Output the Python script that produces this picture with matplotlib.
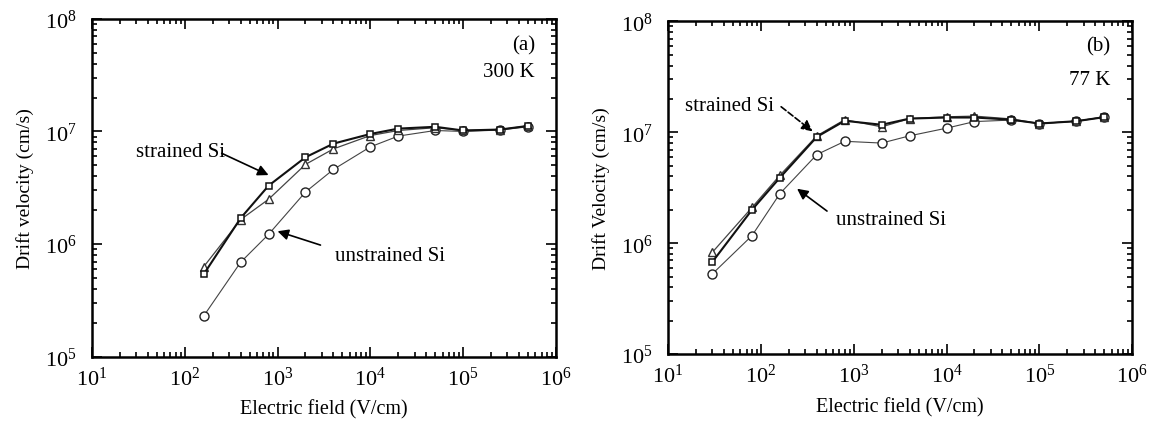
import matplotlib
matplotlib.use("Agg")
import matplotlib.pyplot as plt
import numpy as np
from matplotlib.ticker import LogLocator, NullFormatter

plt.rcParams["font.family"] = ["Liberation Serif", "DejaVu Serif"]
plt.rcParams["mathtext.fontset"] = "stix"

# --------------------------------------------------------------
# data
# --------------------------------------------------------------

# (a) 300 K
field_a = [160, 400, 800, 2000, 4000, 1e4, 2e4, 5e4, 1e5, 2.5e5, 5e5]
strained_sq_a = [5.4e5, 1.7e6, 3.3e6, 5.9e6, 7.8e6, 9.5e6, 1.06e7, 1.1e7, 1.02e7, 1.04e7, 1.12e7]
strained_tr_a = [6.3e5, 1.65e6, 2.5e6, 5.1e6, 7.0e6, 9.2e6, 1.02e7, 1.08e7, 1.02e7, 1.04e7, 1.12e7]
unstrained_a = [2.3e5, 6.9e5, 1.22e6, 2.9e6, 4.6e6, 7.3e6, 9.1e6, 1.02e7, 1.0e7, 1.03e7, 1.1e7]

# (b) 77 K
field_b = [30, 80, 160, 400, 800, 2000, 4000, 1e4, 2e4, 5e4, 1e5, 2.5e5, 5e5]
strained_sq_b = [6.8e5, 2.0e6, 3.9e6, 9.1e6, 1.27e7, 1.17e7, 1.33e7, 1.36e7, 1.36e7, 1.3e7, 1.2e7, 1.26e7, 1.37e7]
strained_tr_b = [8.3e5, 2.1e6, 4.1e6, 9.3e6, 1.3e7, 1.12e7, 1.33e7, 1.38e7, 1.4e7, 1.32e7, 1.2e7, 1.26e7, 1.37e7]
unstrained_b = [5.3e5, 1.17e6, 2.8e6, 6.3e6, 8.3e6, 8.0e6, 9.3e6, 1.09e7, 1.25e7, 1.29e7, 1.2e7, 1.26e7, 1.38e7]


def style_axes(ax, ylabel):
    ax.set_xscale("log")
    ax.set_yscale("log")
    ax.set_xlim(1e1, 1e6)
    ax.set_ylim(1e5, 1e8)
    ax.xaxis.set_major_locator(LogLocator(base=10, numticks=10))
    ax.yaxis.set_major_locator(LogLocator(base=10, numticks=10))
    ax.xaxis.set_minor_locator(LogLocator(base=10, subs=np.arange(2, 10), numticks=20))
    ax.yaxis.set_minor_locator(LogLocator(base=10, subs=np.arange(2, 10), numticks=20))
    ax.xaxis.set_minor_formatter(NullFormatter())
    ax.yaxis.set_minor_formatter(NullFormatter())
    ax.tick_params(which="both", direction="in", top=True, right=True, width=1.2)
    ax.tick_params(which="major", length=7, labelsize=16)
    ax.tick_params(axis="x", which="major", pad=7)
    ax.tick_params(axis="y", which="major", pad=11)
    ax.tick_params(which="minor", length=3.5)
    for s in ax.spines.values():
        s.set_linewidth(1.8)
    ax.set_xlabel("Electric field (V/cm)", fontsize=14.5, labelpad=7)
    ax.set_ylabel(ylabel, fontsize=14, labelpad=8)


def draw_series(ax, x, sq, tr, un):
    ax.plot(x, un, color="#444444", lw=0.8, marker="o", ms=6.5,
            mfc="white", mec="#222222", mew=1.0, zorder=2)
    ax.plot(x, tr, color="#444444", lw=0.9, marker="^", ms=5.5,
            mfc="white", mec="#333333", mew=1.0, zorder=3)
    ax.plot(x, sq, color="#111111", lw=1.5, marker="s", ms=5,
            mfc="white", mec="#111111", mew=1.1, zorder=4)


def arrow(ax, tip, start, ls="-"):
    ax.annotate("", xy=tip, xytext=start,
                arrowprops=dict(arrowstyle="-|>", color="black", lw=1.2, ls=ls,
                                mutation_scale=16, shrinkA=0, shrinkB=0))


fig = plt.figure(figsize=(11.57, 4.31), dpi=100)
ax_a = fig.add_axes([0.0795, 0.170, 0.401, 0.784])
ax_b = fig.add_axes([0.5775, 0.176, 0.401, 0.772])

# ---------------- (a) ----------------
draw_series(ax_a, field_a, strained_sq_a, strained_tr_a, unstrained_a)
style_axes(ax_a, "Drift velocity (cm/s)")
ax_a.text(0.955, 0.923, "(a)", transform=ax_a.transAxes, ha="right", va="center", fontsize=15)
ax_a.text(0.955, 0.843, "300 K", transform=ax_a.transAxes, ha="right", va="center", fontsize=15)
ax_a.text(30, 6.7e6, "strained Si", fontsize=15, ha="left", va="center")
arrow(ax_a, (800, 4.1e6), (250, 6.4e6))
ax_a.text(4200, 8.0e5, "unstrained Si", fontsize=15, ha="left", va="center")
arrow(ax_a, (1000, 1.3e6), (2900, 9.8e5))

# ---------------- (b) ----------------
draw_series(ax_b, field_b, strained_sq_b, strained_tr_b, unstrained_b)
style_axes(ax_b, "Drift Velocity (cm/s)")
ax_b.text(0.953, 0.928, "(b)", transform=ax_b.transAxes, ha="right", va="center", fontsize=15)
ax_b.text(0.953, 0.825, "77 K", transform=ax_b.transAxes, ha="right", va="center", fontsize=15)
ax_b.text(15, 1.75e7, "strained Si", fontsize=15, ha="left", va="center")
arrow(ax_b, (360, 1.02e7), (165, 1.7e7), ls="--")
ax_b.text(640, 1.63e6, "unstrained Si", fontsize=15, ha="left", va="center")
arrow(ax_b, (245, 3.1e6), (515, 1.95e6))

fig.savefig("out.png", dpi=100)
